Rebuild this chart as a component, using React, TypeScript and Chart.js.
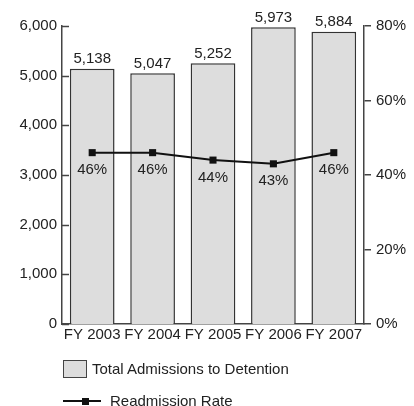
import React, { useEffect, useRef } from "react";
import { Chart, registerables } from "chart.js";

Chart.register(...registerables);

const categories = ["FY 2003", "FY 2004", "FY 2005", "FY 2006", "FY 2007"];
const admissions = [5138, 5047, 5252, 5973, 5884];
const readmissionRate = [46, 46, 44, 43, 46];
const leftTicks = [0, 1000, 2000, 3000, 4000, 5000, 6000];
const rightTicks = [0, 20, 40, 60, 80];

const FONT = '"Liberation Sans", Arial, sans-serif';
const TEXT = "#222";
const AXIS = "#444";

const labelPlugin = {
  id: "valueLabels",
  afterDatasetsDraw(chart: any) {
    const ctx = chart.ctx;
    ctx.save();
    ctx.font = `15px ${FONT}`;
    ctx.fillStyle = TEXT;
    ctx.textAlign = "center";
    chart.data.datasets.forEach((ds: any, i: number) => {
      const meta = chart.getDatasetMeta(i);
      meta.data.forEach((el: any, j: number) => {
        const v = ds.data[j];
        if (ds.type === "bar") {
          ctx.textBaseline = "bottom";
          ctx.fillText(v.toLocaleString("en-US"), el.x, el.y - 2);
        } else {
          ctx.textBaseline = "top";
          ctx.fillText(v + "%", el.x, el.y + 10);
        }
      });
    });
    ctx.restore();
  },
  afterDraw(chart: any) {
    // inward tick marks on the left axis
    const ctx = chart.ctx;
    const y = chart.scales.y;
    const left = chart.chartArea.left;
    ctx.save();
    ctx.strokeStyle = AXIS;
    ctx.lineWidth = 1.5;
    y.ticks.forEach((t: any) => {
      const py = Math.round(y.getPixelForValue(t.value)) + 0.5;
      ctx.beginPath();
      ctx.moveTo(left, py);
      ctx.lineTo(left + 7, py);
      ctx.stroke();
    });
    ctx.restore();
  },
};

export default function App() {
  const ref = useRef<HTMLCanvasElement>(null);
  useEffect(() => {
    const chart = new Chart(ref.current!, {
      data: {
        labels: categories,
        datasets: [
          {
            type: "line",
            label: "Readmission Rate",
            data: readmissionRate,
            yAxisID: "y1",
            borderColor: "#111",
            backgroundColor: "#111",
            borderWidth: 2,
            pointStyle: "rect",
            pointRadius: 5,
            pointBorderWidth: 0,
            tension: 0,
            order: 0,
          } as any,
          {
            type: "bar",
            label: "Total Admissions to Detention",
            data: admissions,
            yAxisID: "y",
            backgroundColor: "#dddddd",
            borderColor: "#333",
            borderWidth: { top: 1.5, left: 1.5, right: 1.5, bottom: 0 },
            borderSkipped: false,
            barPercentage: 0.74,
            categoryPercentage: 1,
            order: 1,
          } as any,
        ],
      },
      options: {
        responsive: false,
        animation: false,
        layout: { padding: { top: 26, bottom: 58, left: 0, right: 0 } },
        plugins: { legend: { display: false }, tooltip: { enabled: false } },
        scales: {
          x: {
            type: "category",
            offset: true,
            grid: { display: false, drawTicks: false },
            border: { display: true, color: AXIS, width: 1.5 },
            ticks: { font: { size: 15, family: FONT }, color: TEXT, padding: 2, maxRotation: 0, autoSkip: false },
            afterFit: (s: any) => { s.height = 24; },
          },
          y: {
            position: "left",
            min: 0,
            max: 6000,
            afterBuildTicks: (s: any) => { s.ticks = leftTicks.map((v) => ({ value: v })); },
            grid: { display: false, drawTicks: false },
            border: { display: true, color: AXIS, width: 1.5 },
            ticks: {
              font: { size: 15, family: FONT },
              color: TEXT,
              padding: 5,
              callback: (v: any) => Number(v).toLocaleString("en-US"),
            },
            afterFit: (s: any) => { s.width = 62; },
          },
          y1: {
            position: "right",
            min: 0,
            max: 80,
            afterBuildTicks: (s: any) => { s.ticks = rightTicks.map((v) => ({ value: v })); },
            grid: { display: true, drawOnChartArea: false, tickLength: 7, color: AXIS, lineWidth: 1.5 },
            border: { display: true, color: AXIS, width: 1.5 },
            ticks: {
              font: { size: 15, family: FONT },
              color: TEXT,
              padding: 5,
              callback: (v: any) => v + "%",
            },
            afterFit: (s: any) => { s.width = 50; },
          },
        },
      } as any,
      plugins: [labelPlugin],
    });
    return () => chart.destroy();
  }, []);

  const textStyle: React.CSSProperties = {
    position: "absolute",
    fontFamily: FONT,
    fontSize: 15,
    color: TEXT,
    lineHeight: "18px",
    whiteSpace: "nowrap",
  };

  return (
    <div style={{ position: "fixed", left: 0, top: 0, width: 414, height: 406, background: "#fff" }}>
      <canvas ref={ref} width={414} height={406} style={{ position: "absolute", left: 0, top: 0 }} />
      <div style={{ position: "absolute", left: 63, top: 360, width: 22, height: 16, background: "#dddddd", border: "1.5px solid #444" }} />
      <div style={{ ...textStyle, left: 92, top: 360 }}>Total Admissions to Detention</div>
      <div style={{ position: "absolute", left: 63, top: 400, width: 38, height: 2, background: "#111" }} />
      <div style={{ position: "absolute", left: 82, top: 398, width: 7, height: 7, background: "#111" }} />
      <div style={{ ...textStyle, left: 110, top: 392 }}>Readmission Rate</div>
    </div>
  );
}
